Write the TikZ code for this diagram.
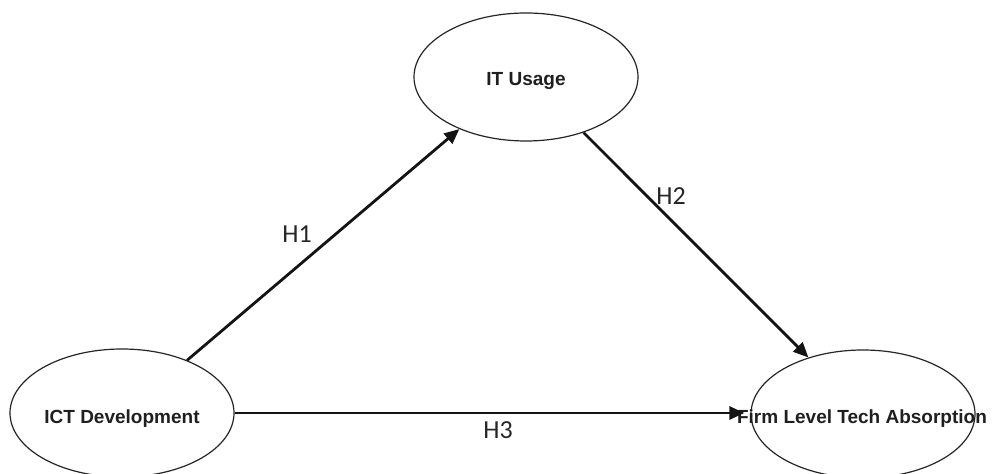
\documentclass[tikz,border=0pt]{standalone}
\usepackage{fontspec}
\setmainfont{Liberation Sans}
\newfontfamily\labelfont{Carlito}
\usetikzlibrary{shapes.geometric,arrows.meta}

\tikzset{
  construct/.style={ellipse, draw=black!85, line width=1.2bp, minimum width=224bp,
    minimum height=128bp, inner sep=0pt},
  ctext/.style={font=\fontsize{19bp}{22bp}\selectfont\bfseries, text=black!88,
    anchor=base, inner sep=0pt},
  hyp/.style={font=\labelfont\fontsize{26bp}{30bp}\selectfont, text=black!85,
    anchor=base, inner sep=0pt},
  path arrow/.style={line width=2.8bp, draw=black!92,
    -{Triangle[length=15bp,width=13bp]}},
}

\begin{document}
\begin{tikzpicture}[x=1bp,y=-1bp]
  \fill[white] (0,0) rectangle (994,474);
  \useasboundingbox (0,0) rectangle (994,474);

  % constructs
  \node[construct] (it)   at (526,77)  {};
  \node[construct] (ict)  at (122,413) {};
  \node[construct] (firm) at (863,414) {};

  % construct names (set on top; the last one runs past its ellipse)
  \node[ctext] (itname)   at (526,86)  {IT Usage};
  \node[ctext] (ictname)  at (122,423) {ICT Development};
  \node[ctext] (firmname) at (862,423) {Firm Level Tech Absorption};

  % hypothesised paths
  \draw[path arrow] (ict.39.7) -- (it.218.5);
  \draw[path arrow] (it.-44) -- (firm.134.5);
  \draw[path arrow] (ict.east) -- ([xshift=-6bp]ict.east -| firm.west);

  % path labels
  \node[hyp] (h1) at (297,243) {H1};
  \node[hyp] (h2) at (671,205) {H2};
  \node[hyp] (h3) at (498,438) {H3};
\end{tikzpicture}
\end{document}
